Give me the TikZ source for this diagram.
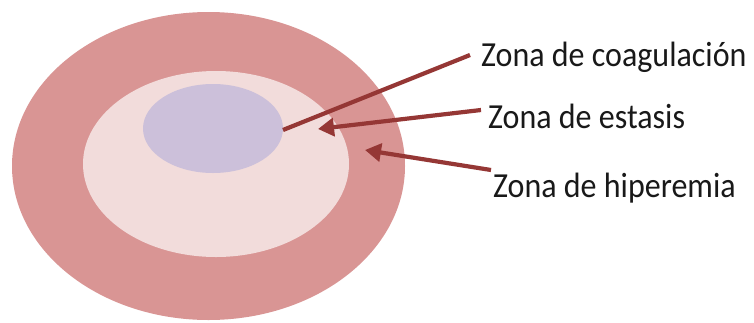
\documentclass[tikz,border=0pt]{standalone}
\usepackage{fontspec}
\usepackage{graphicx}
\setmainfont{Carlito}
\usetikzlibrary{arrows.meta}
\definecolor{outerc}{HTML}{D99594}
\definecolor{midc}{HTML}{F2DCDB}
\definecolor{innerc}{HTML}{CCC0DA}
\definecolor{arrc}{HTML}{953735}
\newcommand{\tallt}[1]{\scalebox{1}[1.1]{#1}}
\tikzset{
  lbl/.style={anchor=base west, inner sep=0pt, font=\fontsize{32}{38}\selectfont, text=black!90},
  conn/.style={draw=arrc, line width=4.2pt},
  connarr/.style={conn, -{Triangle[length=16pt,width=18pt]}}
}
\begin{document}
\begin{tikzpicture}[x=1pt,y=-1pt]
\useasboundingbox (0,0) rectangle (754,322);
\fill[outerc] (208.5,166) ellipse [x radius=196.5, y radius=154];
\fill[midc] (216,164) ellipse [x radius=133, y radius=93];
\fill[innerc] (213,128.5) ellipse [x radius=70, y radius=44.5];
\node[lbl] (coag) at (481,66) {\tallt{Zona de coagulación}};
\node[lbl] (est) at (488,128) {\tallt{Zona de estasis}};
\node[lbl] (hip) at (493,197) {\tallt{Zona de hiperemia}};
\coordinate (c1) at (283,130);
\coordinate (c2) at (318,129);
\coordinate (c3) at (365,150);
\coordinate (s1) at (470,55);
\coordinate (s2) at (481,110);
\coordinate (s3) at (491,170);
\draw[conn] (s1) -- (c1);
\draw[connarr] (s2) -- (c2);
\draw[connarr] (s3) -- (c3);
\end{tikzpicture}
\end{document}
